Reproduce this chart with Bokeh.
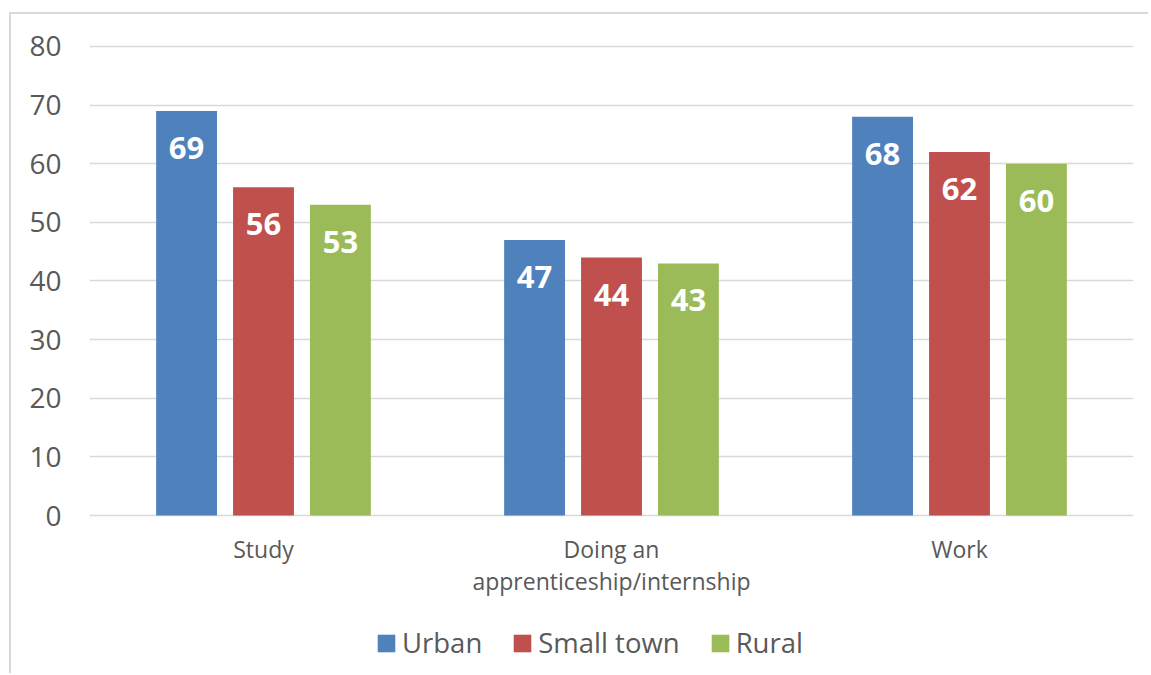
from bokeh.plotting import figure
from bokeh.models import ColumnDataSource, FactorRange, Range1d, Legend, LegendItem, FixedTicker
from bokeh.transform import dodge
from bokeh.core.properties import value
from bokeh.embed import file_html
from bokeh.resources import INLINE

categories = ["Study", "Doing an\napprenticeship/internship", "Work"]
series = ["Urban", "Small town", "Rural"]
urban = [69, 47, 68]
small_town = [56, 44, 62]
rural = [53, 43, 60]
y_ticks = [0, 10, 20, 30, 40, 50, 60, 70, 80]

colors = ["#4f81bd", "#c0504d", "#9bbb59"]
FONT = "Open Sans"
TXT = "#595959"

source = ColumnDataSource(dict(
    cat=categories,
    urban=urban, small_town=small_town, rural=rural,
    urban_t=[str(v) for v in urban],
    small_town_t=[str(v) for v in small_town],
    rural_t=[str(v) for v in rural],
))

# frame extends below the value axis so that category labels and legend sit inside it
p = figure(
    x_range=FactorRange(*categories, range_padding=0),
    y_range=Range1d(-26.95, 80.34),
    frame_width=1044, frame_height=629,
    output_backend="svg", toolbar_location=None,
    min_border_left=78, min_border_right=15,
    min_border_top=30, min_border_bottom=0,
)
p.styles = {"border-top": "2px solid #d9d9d9", "border-left": "2px solid #d9d9d9"}
p.margin = (12, 0, 0, 9)
p.outline_line_color = None
p.background_fill_color = "white"
p.border_fill_color = "white"

offsets = [-0.221, 0.0, 0.221]
keys = ["urban", "small_town", "rural"]
renderers = []
for k, off, c in zip(keys, offsets, colors):
    r = p.vbar(x=dodge("cat", off, range=p.x_range), top=k, bottom=0, width=0.175,
               source=source, fill_color=c, line_color=None)
    renderers.append(r)
    p.text(x=dodge("cat", off, range=p.x_range), y=k, text=k + "_t", source=source,
           text_align="center", text_baseline="middle", y_offset=37,
           text_color="white", text_font=value(FONT), text_font_style="bold",
           text_font_size="31px")

p.xgrid.grid_line_color = None
p.ygrid.grid_line_color = "#d9d9d9"
p.ygrid.grid_line_width = 1.5
p.yaxis.ticker = FixedTicker(ticks=y_ticks)

for ax in (p.xaxis[0], p.yaxis[0]):
    ax.axis_line_color = None
    ax.major_tick_line_color = None
    ax.minor_tick_line_color = None
    ax.major_label_text_color = TXT
    ax.major_label_text_font = FONT

p.yaxis.major_label_text_font_size = "28px"
p.yaxis.major_label_standoff = 22
p.xaxis.fixed_location = 0
p.xaxis.major_label_text_font_size = "23px"
p.xaxis.major_label_standoff = 11
p.xaxis.major_label_text_line_height = 1.0

legend = Legend(
    items=[LegendItem(label=s, renderers=[r]) for s, r in zip(series, renderers)],
    orientation="horizontal", location=(286, 12),
    label_text_font=FONT, label_text_font_size="27.5px", label_text_color=TXT,
    glyph_width=22, glyph_height=22, label_standoff=5, spacing=29,
    border_line_color=None, background_fill_alpha=0, margin=0, padding=0,
)
p.add_layout(legend, "center")

open("out.html", "w").write(file_html(p, INLINE))
